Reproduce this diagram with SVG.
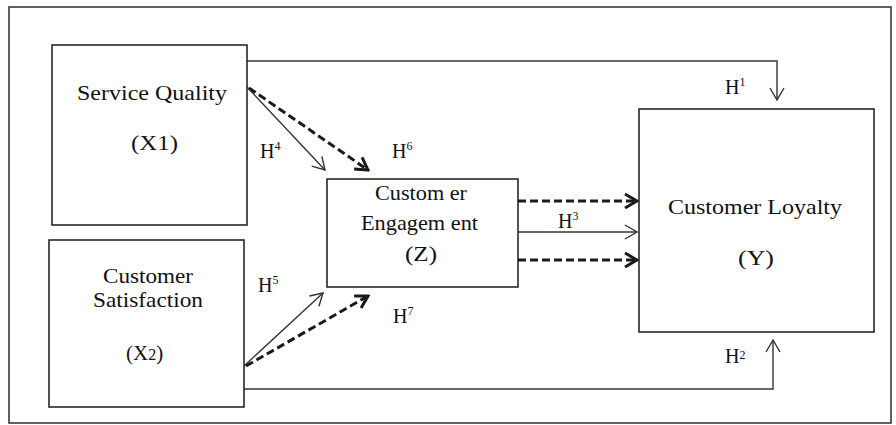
<svg xmlns="http://www.w3.org/2000/svg" width="896" height="425" viewBox="0 0 896 425">
  <defs>
    <style>
      .frame { fill: #ffffff; stroke: #3a3a3a; stroke-width: 1.6; }
      .box { fill: #ffffff; stroke: #1a1a1a; stroke-width: 1.5; }
      .thin { fill: none; stroke: #333333; stroke-width: 1.4; }
      .dash { fill: none; stroke: #1a1a1a; stroke-width: 3; stroke-dasharray: 8 4; }
      .lbl { font-family: "Liberation Serif", "Times New Roman", serif; font-size: 21px; fill: #111111; }
      .h { font-family: "Liberation Serif", "Times New Roman", serif; font-size: 20px; fill: #111111; }
      .sup { font-size: 12px; }
    </style>
    <marker id="openArrow" markerUnits="userSpaceOnUse" viewBox="0 0 14 16" markerWidth="14" markerHeight="16" refX="13" refY="8" orient="auto">
      <path d="M1,1 L13,8 L1,15" fill="none" stroke="#333333" stroke-width="1.4"/>
    </marker>
    <marker id="boldArrow" markerUnits="userSpaceOnUse" viewBox="0 0 16 18" markerWidth="16" markerHeight="18" refX="14" refY="9" orient="auto">
      <path d="M2,2 L14,9 L2,16" fill="none" stroke="#1a1a1a" stroke-width="3"/>
    </marker>
  </defs>

  <rect width="896" height="425" fill="#ffffff"/>
  <rect class="frame" x="9" y="7" width="882" height="416"/>

  <g id="connectors">
    <!-- H1: Service Quality to Customer Loyalty -->
    <polyline class="thin" points="247,61 777,61 777,100" marker-end="url(#openArrow)"/>
    <!-- H2: Customer Satisfaction to Customer Loyalty -->
    <polyline class="thin" points="244,389 773,389 773,340" marker-end="url(#openArrow)"/>
    <!-- H4 / H6 -->
    <line class="thin" x1="247" y1="87" x2="325" y2="170" marker-end="url(#openArrow)"/>
    <line class="dash" x1="249" y1="88" x2="368" y2="170" marker-end="url(#boldArrow)"/>
    <!-- H5 / H7 -->
    <line class="thin" x1="244" y1="366" x2="323" y2="293" marker-end="url(#openArrow)"/>
    <line class="dash" x1="246" y1="366" x2="368" y2="296" marker-end="url(#boldArrow)"/>
    <!-- Engagement to Loyalty -->
    <line class="dash" x1="518" y1="201" x2="637" y2="201" marker-end="url(#boldArrow)"/>
    <line class="thin" x1="518" y1="232" x2="637" y2="232" marker-end="url(#openArrow)"/>
    <line class="dash" x1="518" y1="260" x2="637" y2="260" marker-end="url(#boldArrow)"/>
  </g>

  <g id="labels">
    <text class="h" x="260" y="158">H<tspan class="sup" dy="-8">4</tspan></text>
    <text class="h" x="392" y="158">H<tspan class="sup" dy="-8">6</tspan></text>
    <text class="h" x="258" y="292">H<tspan class="sup" dy="-8">5</tspan></text>
    <text class="h" x="393" y="323">H<tspan class="sup" dy="-8">7</tspan></text>
    <text class="h" x="558" y="228">H<tspan class="sup" dy="-8">3</tspan></text>
    <text class="h" x="725" y="94">H<tspan class="sup" dy="-8">1</tspan></text>
    <text class="h" x="725" y="363">H<tspan class="sup" dy="-4">2</tspan></text>
  </g>

  <g id="service-quality">
    <rect class="box" x="52" y="45" width="195" height="180"/>
    <text class="lbl" x="77" y="100" textLength="150" lengthAdjust="spacingAndGlyphs">Service Quality</text>
    <text class="lbl" x="131" y="150" textLength="47" lengthAdjust="spacingAndGlyphs">(X1)</text>
  </g>

  <g id="customer-satisfaction">
    <rect class="box" x="49" y="240" width="195" height="167"/>
    <text class="lbl" x="103" y="283" textLength="90" lengthAdjust="spacingAndGlyphs">Customer</text>
    <text class="lbl" x="93" y="307" textLength="110" lengthAdjust="spacingAndGlyphs">Satisfaction</text>
    <text class="lbl" x="126" y="360">(X<tspan font-size="16">2</tspan>)</text>
  </g>

  <g id="customer-engagement">
    <rect class="box" x="327" y="179" width="191" height="108"/>
    <text class="lbl" x="375" y="200" textLength="92" lengthAdjust="spacingAndGlyphs">Custom er</text>
    <text class="lbl" x="361" y="230" textLength="117" lengthAdjust="spacingAndGlyphs">Engagem ent</text>
    <text class="lbl" x="405" y="261" textLength="32" lengthAdjust="spacingAndGlyphs">(Z)</text>
  </g>

  <g id="customer-loyalty">
    <rect class="box" x="639" y="109" width="235" height="223"/>
    <text class="lbl" x="668" y="214" textLength="174" lengthAdjust="spacingAndGlyphs">Customer Loyalty</text>
    <text class="lbl" x="738" y="265" textLength="36" lengthAdjust="spacingAndGlyphs">(Y)</text>
  </g>
</svg>
